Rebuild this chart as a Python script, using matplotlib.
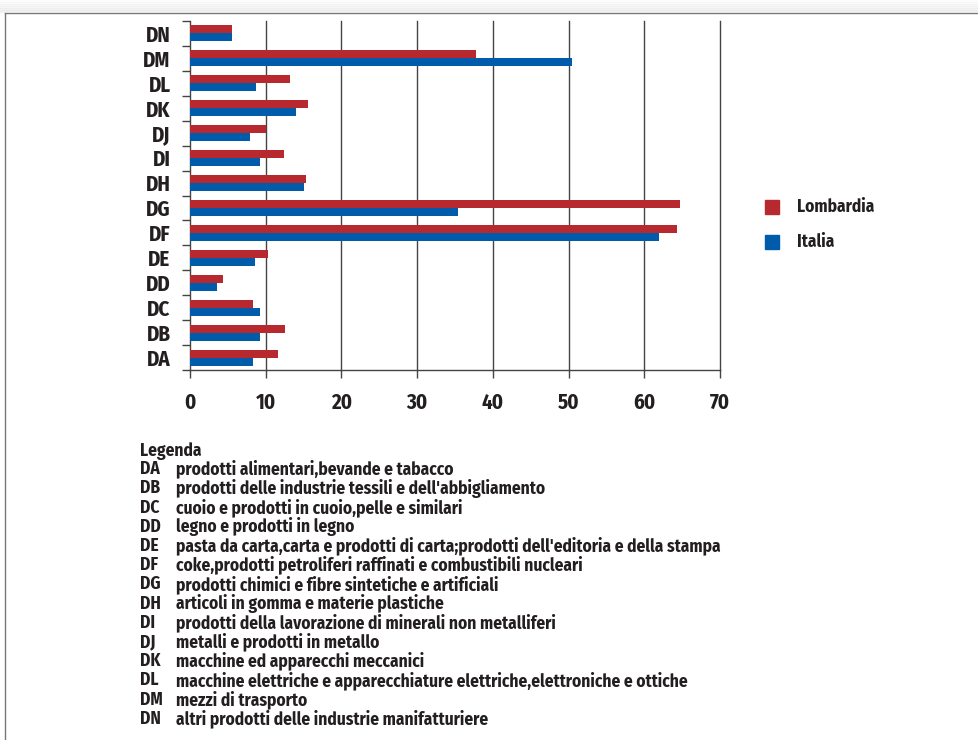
import matplotlib.pyplot as plt
import numpy as np
from matplotlib.patches import Rectangle
from matplotlib.lines import Line2D

# Data (bottom to top)
codes = ["DA", "DB", "DC", "DD", "DE", "DF", "DG",
         "DH", "DI", "DJ", "DK", "DL", "DM", "DN"]
lombardia = [11.6, 12.5, 8.3, 4.3, 10.3, 64.3, 64.7,
             15.3, 12.4, 10.0, 15.6, 13.2, 37.8, 5.5]
italia = [8.3, 9.3, 9.3, 3.5, 8.6, 62.0, 35.4,
          15.0, 9.2, 7.9, 14.0, 8.7, 50.5, 5.5]
descriptions = [
    "prodotti alimentari,bevande e tabacco",
    "prodotti delle industrie tessili e dell'abbigliamento",
    "cuoio e prodotti in cuoio,pelle e similari",
    "legno e prodotti in legno",
    "pasta da carta,carta e prodotti di carta;prodotti dell'editoria e della stampa",
    "coke,prodotti petroliferi raffinati e combustibili nucleari",
    "prodotti chimici e fibre sintetiche e artificiali",
    "articoli in gomma e materie plastiche",
    "prodotti della lavorazione di minerali non metalliferi",
    "metalli e prodotti in metallo",
    "macchine ed apparecchi meccanici",
    "macchine elettriche e apparecchiature elettriche,elettroniche e ottiche",
    "mezzi di trasporto",
    "altri prodotti delle industrie manifatturiere",
]
series_names = ["Lombardia", "Italia"]

RED = "#b8282f"
BLUE = "#005bab"
TXT = "#231f20"
GRID = "#444444"
FONT = ["Fira Sans Condensed", "PT Sans Narrow", "DejaVu Sans"]

W, H = 979, 740
fig = plt.figure(figsize=(W / 100, H / 100), dpi=100)

# outer frame
frame = fig.add_axes([0, 0, 1, 1], zorder=-1)
frame.set_xlim(0, W)
frame.set_ylim(H, 0)
frame.axis("off")
frame.add_line(Line2D([5.5, 5.5], [12.5, H], color="#777777", lw=1))
frame.add_line(Line2D([5.5, W], [12.5, 12.5], color="#777777", lw=1))
for i in range(6):
    frame.add_line(Line2D([0, W], [11 - 2 * i, 11 - 2 * i],
                          color="#e6e6e6", alpha=0.6 - i * 0.1, lw=2))

# main chart axes: x from 190 to 720 px, y from 21 to 370 px
left, right, top, bottom = 190, 720, 21, 370
ax = fig.add_axes([left / W, 1 - bottom / H, (right - left) / W, (bottom - top) / H])

y = np.arange(len(codes))
bh = 0.32
ax.barh(y + bh / 2, lombardia, height=bh, color=RED, zorder=3)
ax.barh(y - bh / 2, italia, height=bh, color=BLUE, zorder=3)

ax.set_xlim(0, 70)
ax.set_ylim(-0.5, len(codes) - 0.5)
ax.set_xticks(range(0, 71, 10))
ax.set_yticks(y)
ax.set_yticklabels(codes)
ax.set_yticks(np.arange(-0.5, len(codes), 1), minor=True)
ax.tick_params(axis="y", which="major", length=0, pad=14)
ax.tick_params(axis="y", which="minor", length=6, color=GRID, width=1)
ax.tick_params(axis="x", length=6, color=GRID, width=1, pad=10)
for lab in ax.get_yticklabels() + ax.get_xticklabels():
    lab.set_family(FONT)
    lab.set_fontweight("bold")
    lab.set_fontsize(15)
    lab.set_color(TXT)

for xv in range(10, 71, 10):
    ax.axvline(xv, color=GRID, lw=1, zorder=1, clip_on=False)
for s in ["top", "right"]:
    ax.spines[s].set_visible(False)
for s in ["left", "bottom"]:
    ax.spines[s].set_color(GRID)
    ax.spines[s].set_linewidth(1)

# legend on the right
for i, (name, col) in enumerate(zip(series_names, [RED, BLUE])):
    yy = 207 + i * 35
    frame.add_patch(Rectangle((765, yy - 7), 14, 14, color=col))
    frame.text(797, yy, name, family=FONT, fontweight="bold", fontsize=12.5,
               color=TXT, va="center", ha="left")

# code legend below
frame.text(140, 451, "Legenda", family=FONT, fontweight="bold", fontsize=12.5,
           color=TXT, va="center")
for i, (c, d) in enumerate(zip(codes, descriptions)):
    yy = 469 + i * 19.2
    frame.text(140, yy, c, family=FONT, fontweight="bold", fontsize=12.5,
               color=TXT, va="center")
    frame.text(176, yy, d, family=FONT, fontweight="bold", fontsize=12.5,
               color=TXT, va="center")

fig.savefig("out.png", dpi=100)
